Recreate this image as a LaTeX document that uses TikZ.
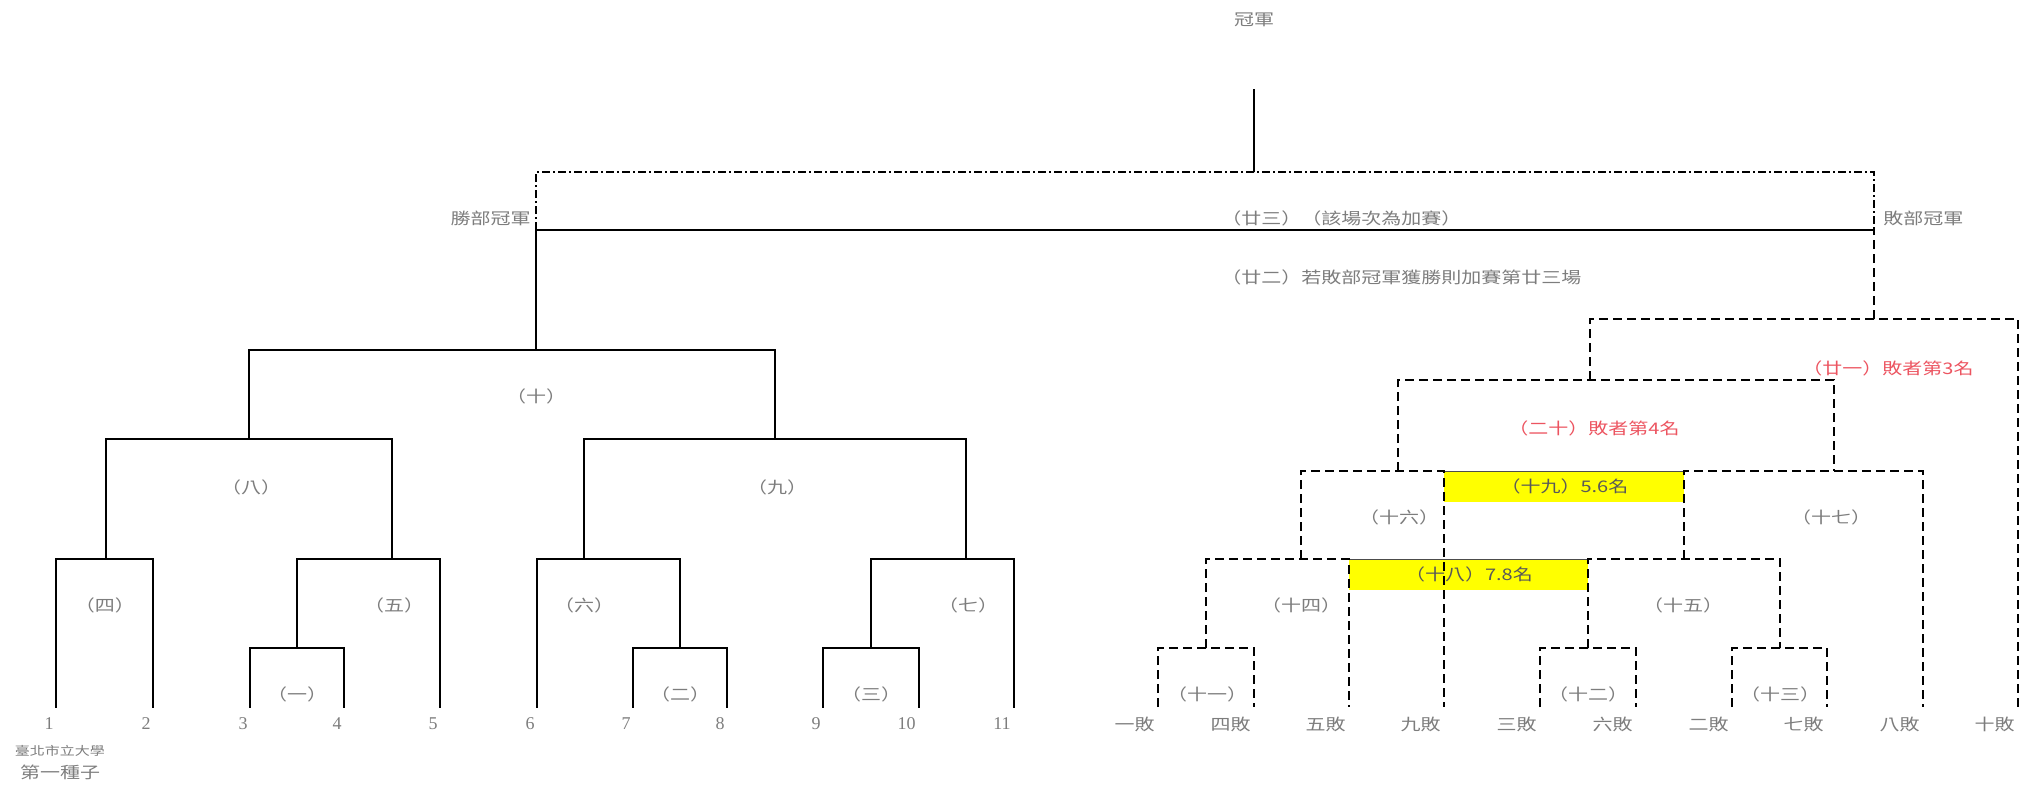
\documentclass[tikz,border=0pt]{standalone}
\usepackage{fontspec}
\setmainfont{Liberation Serif}
\newfontfamily\cjk[FakeStretch=1.25]{Noto Sans CJK TC}
\usetikzlibrary{positioning}
\definecolor{txtgray}{RGB}{125,125,125}
\definecolor{placered}{RGB}{236,84,96}
\definecolor{hiyellow}{RGB}{255,255,0}

\begin{document}
\begin{tikzpicture}[x=0.5pt, y=-0.5pt, every node/.style={inner sep=0pt, text=txtgray, font=\cjk\fontsize{8pt}{9pt}\selectfont}]
        \tikzset{winline/.style={line width=1.2pt, line cap=rect}};
        \tikzset{loseline/.style={line width=1.4pt, dash pattern=on 4.5pt off 2.5pt}};
        \tikzset{topline/.style={line width=0.8pt, dash pattern=on 4pt off 1.5pt on 1pt off 1.5pt}};
        \tikzset{num/.style={anchor=east, font=\fontsize{9pt}{10pt}\selectfont}};
        \tikzset{lost/.style={anchor=east}};
        \tikzset{redlbl/.style={text=placered}};
        \tikzset{hilite/.style={fill=hiyellow, text=black!65, anchor=north west, minimum height=15.5pt}};
        \useasboundingbox (0,0) rectangle (2031,794);
        % leaf feet
        \coordinate (f1) at (56,707);   \coordinate (f2) at (153,707);
        \coordinate (f3) at (250,707);  \coordinate (f4) at (344,707);
        \coordinate (f5) at (440,707);  \coordinate (f6) at (537,707);
        \coordinate (f7) at (633,707);  \coordinate (f8) at (727,707);
        \coordinate (f9) at (823,707);  \coordinate (f10) at (919,707);
        \coordinate (f11) at (1014,707);
        \coordinate (g1) at (1158,707); \coordinate (g2) at (1254,707);
        \coordinate (g3) at (1349,707); \coordinate (g4) at (1444,707);
        \coordinate (g5) at (1540,707); \coordinate (g6) at (1636,707);
        \coordinate (g7) at (1732,707); \coordinate (g8) at (1827,707);
        \coordinate (g9) at (1923,707); \coordinate (g10) at (2018,707);
        % match points
        \coordinate (m1) at (297,648);  \coordinate (m2) at (680,648);
        \coordinate (m3) at (871,648);  \coordinate (m4) at (106,559);
        \coordinate (m5) at (392,559);  \coordinate (m6) at (584,559);
        \coordinate (m7) at (966,559);  \coordinate (m8) at (249,439);
        \coordinate (m9) at (775,439);  \coordinate (m10) at (536,350);
        \coordinate (m11) at (1206,648); \coordinate (m12) at (1588,648);
        \coordinate (m13) at (1780,648); \coordinate (m14) at (1301,559);
        \coordinate (m15) at (1684,559); \coordinate (m16) at (1398,471);
        \coordinate (m17) at (1834,471); \coordinate (m20) at (1590,380);
        \coordinate (m21) at (1874,319);
        \coordinate (wc) at (536,230);  \coordinate (lc) at (1874,230);
        \coordinate (top) at (1254,172); \coordinate (champ) at (1254,89);
        % yellow places
        \node[hilite, minimum width=119.5pt] (y18) at (1349,559) {（十八）7.8名};
        \node[hilite, minimum width=120pt] (y19) at (1444,471) {（十九）5.6名};
        \draw[line width=0.5pt, black!70] (y18.north west) -- (y18.north east);
        \draw[line width=0.5pt, black!70] (y19.north west) -- (y19.north east);
        % winners side
        \draw[winline] (f3) |- (m1) -| (f4);
        \draw[winline] (f7) |- (m2) -| (f8);
        \draw[winline] (f9) |- (m3) -| (f10);
        \draw[winline] (f1) |- (m4) -| (f2);
        \draw[winline] (m1) |- (m5) -| (f5);
        \draw[winline] (f6) |- (m6) -| (m2);
        \draw[winline] (m3) |- (m7) -| (f11);
        \draw[winline] (m4) |- (m8) -| (m5);
        \draw[winline] (m6) |- (m9) -| (m7);
        \draw[winline] (m8) |- (m10) -| (m9);
        \draw[winline] (m10) -- (wc) -- (lc);
        % losers side
        \draw[loseline] (g1) |- (m11) -| (g2);
        \draw[loseline] (g5) |- (m12) -| (g6);
        \draw[loseline] (g7) |- (m13) -| (g8);
        \draw[loseline] (m11) |- (m14) -| (g3);
        \draw[loseline] (m12) |- (m15) -| (m13);
        \draw[loseline] (m14) |- (m16) -| (g4);
        \draw[loseline] (m15) |- (m17) -| (g9);
        \draw[loseline] (m16) |- (m20) -| (m17);
        \draw[loseline] (m20) |- (m21) -| (g10);
        \draw[loseline] (m21) -- (lc);
        % top level
        \draw[topline] (wc) |- (top) -| (lc);
        \draw[line width=0.8pt] (top) -- (champ);
        \node (ch) at (1254,20) {冠軍};
        \node[anchor=east] (wlab) at (531,218) {勝部冠軍};
        \node[anchor=west] (llab) at (1883,218) {敗部冠軍};
        \node[anchor=west] (t23) at (1221,218) {（廿三）（該場次為加賽）};
        \node[anchor=west] (t22) at (1221,277) {（廿二）若敗部冠軍獲勝則加賽第廿三場};
        % match labels
        \node (t1) at (297,694) {（一）};
        \node (t2) at (680,694) {（二）};
        \node (t3) at (871,694) {（三）};
        \node (t4) at (105,605) {（四）};
        \node (t5) at (394,605) {（五）};
        \node (t6) at (584,605) {（六）};
        \node (t7) at (968,605) {（七）};
        \node (t8) at (251,487) {（八）};
        \node (t9) at (777,487) {（九）};
        \node (t10) at (536,396) {（十）};
        \node (t11) at (1207,694) {（十一）};
        \node (t12) at (1588,694) {（十二）};
        \node (t13) at (1780,694) {（十三）};
        \node (t14) at (1301,605) {（十四）};
        \node (t15) at (1683,605) {（十五）};
        \node (t16) at (1399,517) {（十六）};
        \node (t17) at (1831,517) {（十七）};
        \node[redlbl] (t20) at (1594,428) {（二十）敗者第4名};
        \node[redlbl] (t21) at (1888,368) {（廿一）敗者第3名};
        % leaf labels
        \node[num] (n1) at (54,724) {1};
        \node[num] (n2) at (151,724) {2};
        \node[num] (n3) at (248,724) {3};
        \node[num] (n4) at (342,724) {4};
        \node[num] (n5) at (438,724) {5};
        \node[num] (n6) at (535,724) {6};
        \node[num] (n7) at (631,724) {7};
        \node[num] (n8) at (725,724) {8};
        \node[num] (n9) at (821,724) {9};
        \node[num] (n10) at (916,724) {10};
        \node[num] (n11) at (1011,724) {11};
        \node[lost] (r1) at (1155,724) {一敗};
        \node[lost] (r2) at (1251,724) {四敗};
        \node[lost] (r3) at (1346,724) {五敗};
        \node[lost] (r4) at (1441,724) {九敗};
        \node[lost] (r5) at (1537,724) {三敗};
        \node[lost] (r6) at (1633,724) {六敗};
        \node[lost] (r7) at (1729,724) {二敗};
        \node[lost] (r8) at (1824,724) {七敗};
        \node[lost] (r9) at (1920,724) {八敗};
        \node[lost] (r10) at (2015,724) {十敗};
        \node[font=\cjk\fontsize{6pt}{7pt}\selectfont] (seed) at (60,751) {臺北市立大學};
        \node[below=4pt of seed] (seedno) {第一種子};
      \end{tikzpicture}
\end{document}
